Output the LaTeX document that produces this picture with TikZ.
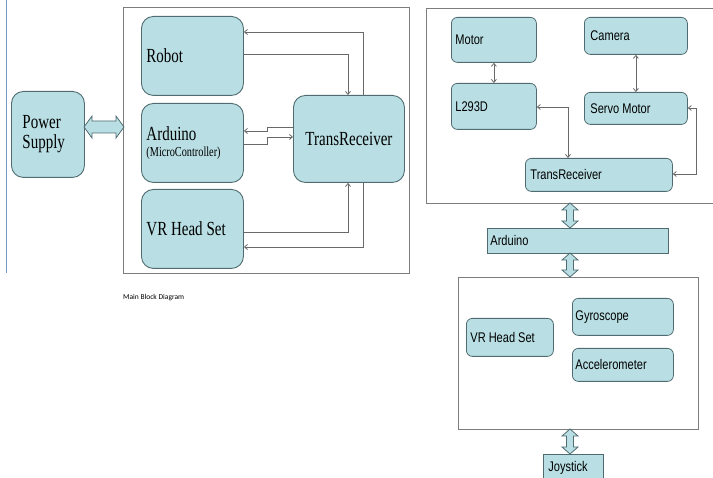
\documentclass[tikz,border=0pt]{standalone}
\usepackage{fontspec}
\setmainfont{Liberation Serif}
\newfontfamily\tnr[FakeStretch=0.75]{Liberation Serif}
\newfontfamily\ars[FakeStretch=0.79]{Liberation Sans}
\newfontfamily\calib{Carlito}
\usetikzlibrary{arrows.meta}
\definecolor{boxfill}{RGB}{185,223,228}
\definecolor{boxline}{RGB}{80,108,112}
\definecolor{frameline}{RGB}{125,125,125}
\definecolor{wireline}{RGB}{105,105,105}
\definecolor{sideline}{RGB}{120,150,190}
\newcommand\lsp{\spaceskip=3.8pt plus 1pt\relax}
\newcommand\rsp{\spaceskip=3pt plus 1pt\relax}
\tikzset{
  x=1pt, y=-1pt,
  lbox/.style={draw=boxline, fill=boxfill, line width=0.9pt, rounded corners=12pt,
    anchor=north west, inner ysep=0pt, align=left,
    font=\tnr\fontsize{20}{20}\selectfont, execute at begin node=\lsp},
  rbox/.style={draw=boxline, fill=boxfill, line width=0.8pt, rounded corners=6pt,
    anchor=north west, inner ysep=0pt, align=left,
    font=\ars\fontsize{14}{16}\selectfont, execute at begin node=\rsp},
  sbox/.style={rbox, rounded corners=0pt},
  frame/.style={draw=frameline, line width=0.9pt},
  wire/.style={draw=wireline, line width=0.8pt, -{Straight Barb[length=3pt,width=5pt]}},
  wire2/.style={draw=wireline, line width=0.8pt, {Straight Barb[length=3pt,width=5pt]}-{Straight Barb[length=3pt,width=5pt]}},
  barrow/.style={draw=boxline, fill=boxfill, line width=0.8pt, line join=miter},
}
\newcommand\dblH[3]{%
  \draw[barrow] (#1,#3) -- (#1+8,#3-11) -- (#1+8,#3-6) -- (#2-8,#3-6) -- (#2-8,#3-11) -- (#2,#3)
    -- (#2-8,#3+11) -- (#2-8,#3+6) -- (#1+8,#3+6) -- (#1+8,#3+11) -- cycle;}
\newcommand\dblV[3]{%
  \draw[barrow] (#1,#2) -- (#1+8,#2+7) -- (#1+3.5,#2+7) -- (#1+3.5,#3-7) -- (#1+8,#3-7) -- (#1,#3)
    -- (#1-8,#3-7) -- (#1-3.5,#3-7) -- (#1-3.5,#2+7) -- (#1-8,#2+7) -- cycle;}
\begin{document}
\begin{tikzpicture}
\useasboundingbox (0,0) rectangle (713,478);
% side line
\draw[sideline, line width=1pt] (6,0) -- (6,273);
% frames
\draw[frame] (123,7) rectangle (409,273);
\draw[frame] (716,8) -- (426,8) -- (426,203) -- (716,203);
\draw[frame] (458,277) rectangle (698,429);
% left boxes
\node[lbox, minimum width=73pt, minimum height=86pt, text width=51pt, inner xsep=11pt] (ps) at (11,91) {Power\\Supply};
\node[lbox, minimum width=102pt, minimum height=79pt, text width=92pt, inner xsep=5pt] (robot) at (141,16) {Robot};
\node[lbox, minimum width=102pt, minimum height=79pt, text width=92pt, inner xsep=5pt] (ard) at (141,103) {Arduino\\[-4pt]{\fontsize{13.7}{14}\selectfont(MicroController)}};
\node[lbox, minimum width=102pt, minimum height=79pt, text width=92pt, inner xsep=5pt] (vr) at (141,189) {VR Head Set};
\node[lbox, minimum width=111pt, minimum height=87pt, text width=105pt, inner xsep=3pt, align=center] (tr) at (293,95) {TransReceiver};
% power arrow
\dblH{84}{124}{127}
% left wires
\coordinate (c1) at (363,32);
\coordinate (c2) at (348,54);
\coordinate (c3) at (267,127);
\coordinate (c4) at (267,131);
\coordinate (c5) at (267,144);
\coordinate (c6) at (267,137);
\coordinate (c7) at (348,232);
\coordinate (c8) at (363,247);
\draw[wire] (tr.north -| c1) |- (robot.east |- c1);
\draw[wire] (robot.east |- c2) -| (tr.north -| c2);
\draw[wire] (tr.west |- c3) -- (c3) -- (c4) -- (ard.east |- c4);
\draw[wire] (ard.east |- c5) -- (c5) -- (c6) -- (tr.west |- c6);
\draw[wire] (vr.east |- c7) -| (tr.south -| c7);
\draw[wire] (tr.south -| c8) |- (vr.east |- c8);
% caption
\node[font=\calib\fontsize{7.5}{9}\selectfont, anchor=west, inner sep=0pt] (cap) at (123,298) {Main Block Diagram};
% right top boxes
\node[rbox, minimum width=85pt, minimum height=45pt, text width=77pt, inner xsep=4pt] (motor) at (451,17) {Motor};
\node[rbox, minimum width=85pt, minimum height=46pt, text width=77pt, inner xsep=4pt] (l293) at (451,83) {L293D};
\node[rbox, minimum width=103pt, minimum height=37pt, text width=91pt, inner xsep=6pt] (camera) at (584,17) {Camera};
\node[rbox, minimum width=103pt, minimum height=32pt, text width=91pt, inner xsep=6pt] (servo) at (584,92) {Servo Motor};
\node[rbox, minimum width=147pt, minimum height=33pt, text width=137pt, inner xsep=5pt] (tr2) at (525,158) {TransReceiver};
\coordinate (c9) at (568,107);
\coordinate (c10) at (696,108);
\coordinate (c11) at (696,174);
\draw[wire2] (motor.south) -- (l293.north);
\draw[wire2] (camera.south) -- (servo.north);
\draw[wire2] (l293.east |- c9) -| (tr2.north -| c9);
\draw[wire2] (servo.east |- c10) -- (c10) -- (c11) -- (tr2.east |- c11);
% arduino bar
\dblV{570}{203}{228}
\node[sbox, minimum width=181pt, minimum height=25pt, text width=175pt, inner xsep=3pt] (ardb) at (487,228) {Arduino};
\dblV{570}{253}{277}
% bottom boxes
\node[rbox, minimum width=87pt, minimum height=38pt, text width=79pt, inner xsep=4pt] (vr2) at (466,318) {VR Head Set};
\node[rbox, minimum width=101pt, minimum height=37pt, text width=95pt, inner xsep=3pt] (gyro) at (572,298) {Gyroscope};
\node[rbox, minimum width=101pt, minimum height=33pt, text width=95pt, inner xsep=3pt] (acc) at (572,348) {Accelerometer};
\dblV{570}{429}{454}
\node[sbox, minimum width=60pt, minimum height=26pt, text width=50pt, inner xsep=5pt] (joy) at (543,454) {Joystick};
\end{tikzpicture}
\end{document}
